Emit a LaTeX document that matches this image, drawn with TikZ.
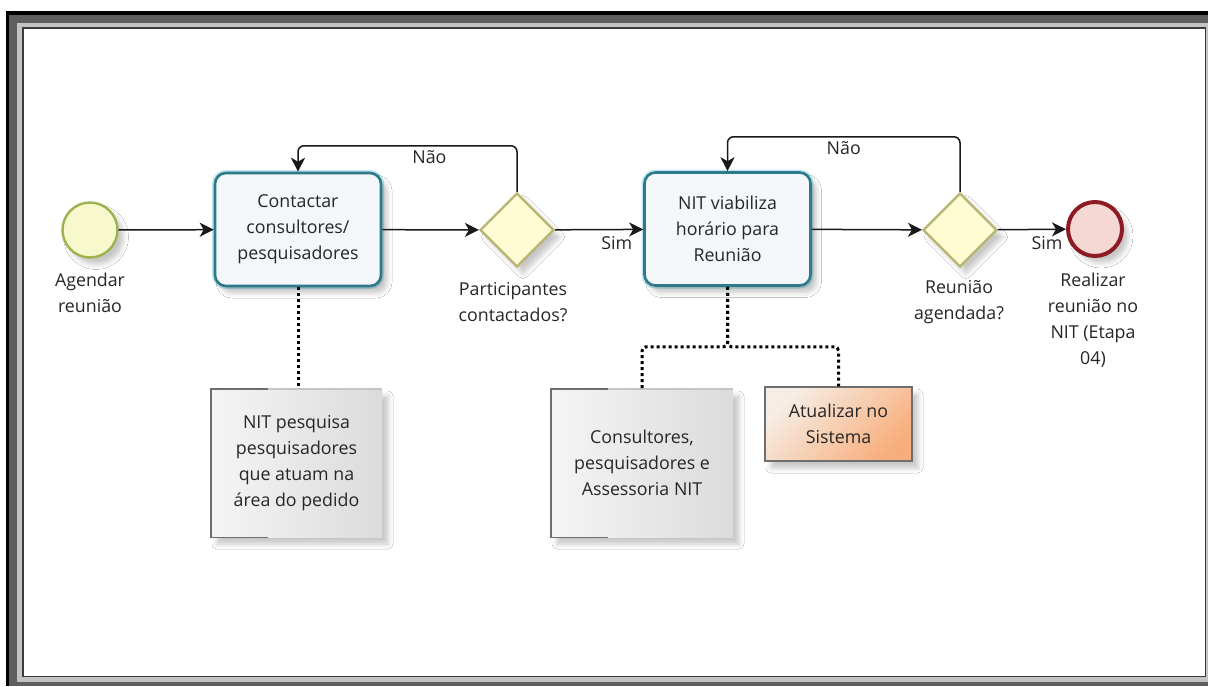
\documentclass[tikz,border=0pt]{standalone}
\usepackage{fontspec}
\setmainfont{Open Sans}
\usetikzlibrary{shapes.geometric,arrows.meta,shadows,shadows.blur}

\definecolor{ink}{HTML}{262626}
\definecolor{taskline}{HTML}{2F7A8A}
\definecolor{taskglow}{HTML}{BFE6F0}
\definecolor{taskfill}{HTML}{F3F7F9}
\definecolor{startline}{HTML}{9DB24E}
\definecolor{startfill}{HTML}{F7F9CC}
\definecolor{gateline}{HTML}{B9B472}
\definecolor{gatefill}{HTML}{FFFCD4}
\definecolor{endline}{HTML}{8E1B24}
\definecolor{endfill}{HTML}{F5D8D4}
\definecolor{noteline}{HTML}{6E6E6E}
\definecolor{framegray}{HTML}{5E5E5E}
\definecolor{framelight}{HTML}{C3C3C3}
\definecolor{framedark}{HTML}{3A3A3A}
\definecolor{peach}{HTML}{F6EEE6}
\definecolor{hotorange}{HTML}{F7AE7C}

\tikzset{
  txt/.style={font=\fontsize{17.8}{26}\selectfont, text=ink, align=center},
  softshadow/.style={blur shadow={shadow opacity=22, shadow xshift=6pt,
    shadow yshift=-7pt, shadow blur radius=5pt}},
  task/.style={txt, rectangle, rounded corners=11pt, draw=taskline, line width=2.6pt,
    fill=taskfill, minimum width=166pt, minimum height=113pt, inner sep=2pt,
    preaction={draw=taskglow, line width=6pt}, softshadow},
  gate/.style={diamond, aspect=1, draw=gateline, line width=2.4pt, fill=gatefill,
    minimum width=74pt, minimum height=74pt, inner sep=0pt, softshadow},
  startev/.style={circle, draw=startline, line width=2.4pt, fill=startfill,
    minimum size=55pt, inner sep=0pt, softshadow},
  endev/.style={circle, draw=endline, line width=4pt, fill=endfill,
    minimum size=54pt, inner sep=0pt, softshadow},
  note/.style={txt, rectangle, inner sep=2pt, left color=white!96!black,
    right color=white!86!black, softshadow},
  notehot/.style={txt, rectangle, inner sep=2pt, draw=noteline, line width=1.2pt,
    top color=peach, bottom color=hotorange, shading angle=45, softshadow},
  flow/.style={draw=black!90, line width=1.5pt,
    -{Stealth[length=14pt, width=14pt, inset=4pt]}},
  loopflow/.style={flow, rounded corners=6pt},
  assoc/.style={draw=black, line width=3pt, dash pattern=on 3pt off 3pt,
    rounded corners=4pt},
  bracket/.style={draw=noteline, line width=1.4pt},
}

\begin{document}
\begin{tikzpicture}[x=1pt, y=-1pt]
  % window frame
  \fill[white] (0,0) rectangle (1208,686);
  \fill[black] (6,11) rectangle (1208,686);
  \fill[framegray] (9,15) rectangle (1208,686);
  \fill[framelight] (17,23) rectangle (1208,682);
  \fill[framedark] (22,27) rectangle (1206,677);
  \fill[white] (23.5,29) rectangle (1204.5,675.5);
  \useasboundingbox (0,0) rectangle (1208,686);

  % events, tasks and gateways
  \node[startev] (start) at (90,230) {};
  \node[task] (t1) at (298,229.5) {Contactar\\consultores/\\pesquisadores};
  \node[gate] (g1) at (517,230) {};
  \node[task] (t2) at (727.5,229) {NIT viabiliza\\horário para\\Reunião};
  \node[gate] (g2) at (960,230) {};
  \node[endev] (end) at (1095,229) {};

  % captions
  \node[txt] (lstart) at (90,293) {Agendar\\reunião};
  \node[txt] (lg1) at (513,302) {Participantes\\contactados?};
  \node[txt] (lg2) at (959,302) {Reunião\\agendada?};
  \node[txt] (lend) at (1093,320) {Realizar\\reunião no\\NIT (Etapa\\04)};

  % text annotations
  \node[note, minimum width=171pt, minimum height=148pt] (a1) at (296.5,463)
    {NIT pesquisa\\pesquisadores\\que atuam na\\área do pedido};
  \node[note, minimum width=182pt, minimum height=148pt] (a2) at (642,463)
    {Consultores,\\pesquisadores e\\Assessoria NIT};
  \node[notehot, minimum width=147pt, minimum height=74pt] (a3) at (838.5,424)
    {Atualizar no\\Sistema};
  \draw[bracket] ([xshift=57pt]a1.north west) -- (a1.north west) -- (a1.south west) -- ++(57,0);
  \draw[bracket, draw=noteline!40] ([xshift=57pt]a1.north west) -- (a1.north east);
  \draw[bracket] ([xshift=57pt]a2.north west) -- (a2.north west) -- (a2.south west) -- ++(57,0);
  \draw[bracket, draw=noteline!40] ([xshift=57pt]a2.north west) -- (a2.north east);

  % sequence flows
  \draw[flow] (start) -- (t1);
  \draw[flow] (t1) -- (g1);
  \draw[flow] (g1) -- (t2) node[pos=0.7, below=3pt, txt] {Sim};
  \draw[flow] (t2) -- (g2);
  \draw[flow] (g2) -- (end) node[pos=0.72, below=3pt, txt] {Sim};
  \draw[loopflow] (g1.north) -- ++(0,-46) -| (t1.north)
    node[pos=0.2, below=1pt, txt] {Não};
  \draw[loopflow] (g2.north) -- ++(0,-55) -| (t2.north)
    node[pos=0.25, below=1pt, txt] {Não};

  % associations
  \draw[assoc] (t1.south) -- (t1.south |- a1.north);
  \draw[assoc] (t2.south) -- ++(0,60) -| (a2.north);
  \draw[assoc] (t2.south) -- ++(0,60) -| (a3.north);
\end{tikzpicture}
\end{document}
